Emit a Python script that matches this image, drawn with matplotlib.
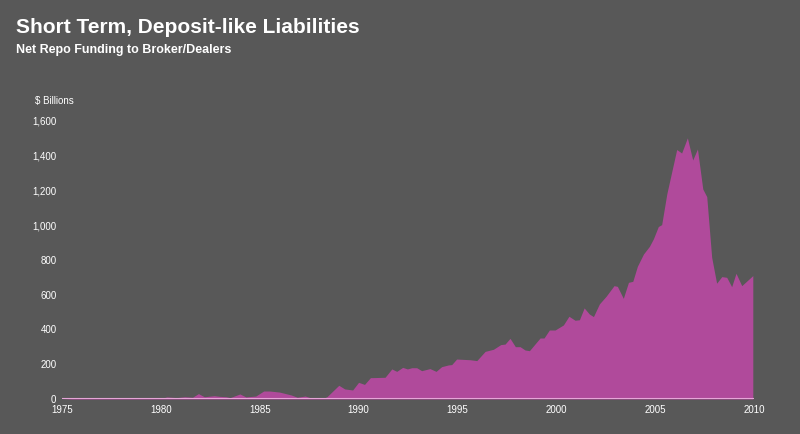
import matplotlib
matplotlib.use("Agg")
import matplotlib.pyplot as plt

years = [1975.0,1975.7,1976.9,1977.4,1977.9,1978.6,1979.1,1980.1,1980.3,1980.8,1981.2,1981.6,1981.9,1982.2,1982.7,1983.0,1983.3,1983.5,1984.0,1984.3,1984.8,1985.2,1985.5,1986.0,1986.6,1986.9,1987.3,1987.6,1988.2,1988.4,1989.0,1989.3,1989.7,1990.0,1990.3,1990.6,
 1990.71,1991.34,1991.68,1991.93,1992.23,1992.47,1992.69,1992.94,1993.19,1993.61,1993.92,1994.2,1994.54,1994.71,1994.96,1995.3,1995.64,1995.98,1996.4,1996.82,1997.19,1997.41,1997.66,1997.93,1998.17,1998.42,1998.64,1999.18,1999.38,1999.65,1999.94,2000.36,2000.64,2000.95,2001.17,2001.41,2001.67,2001.88,2002.18,2002.52,2002.92,2003.09,2003.39,2003.65,2003.87,2004.1,2004.41,2004.71,2004.91,2005.16,2005.33,2005.59,2006.09,2006.34,2006.63,2006.9,2007.14,2007.41,2007.61,2007.86,2008.11,2008.37,2008.62,2008.87,2009.09,2009.38,2009.94]
values = [0,4,4,6,4,8,4,6,12,8,13,10,31,13,19,15,13,8,29,12,17,46,46,40,23,10,17,6,4,13,79,58,52,96,84,123,
 123,125,173,159,182,173,180,180,163,175,159,186,196,198,230,228,226,221,274,286,313,316,349,301,301,282,278,351,351,397,397,426,476,453,456,524,489,474,547,591,652,648,579,671,677,763,834,878,921,992,1003,1180,1435,1415,1502,1375,1438,1208,1164,815,666,704,700,646,723,652,710]
yticks = [0,200,400,600,800,1000,1200,1400,1600]
xticks = [1975,1980,1985,1990,1995,2000,2005,2010]

bg = "#585858"
plt.rcParams['font.family'] = ['Liberation Sans', 'DejaVu Sans']
fig = plt.figure(figsize=(8, 4.34), dpi=100, facecolor=bg)
ax = fig.add_axes([0.0775, 0.0806, 0.865, 0.661], facecolor=bg)
ax.fill_between(years, values, 0, color="#b04a9b", linewidth=0)
ax.axhline(0, color="#e6a6d8", linewidth=1.5)
ax.set_xlim(1975, 2010)
ax.set_ylim(0, 1650)
ax.set_yticks(yticks)
ax.set_yticklabels([f"{v:,}" for v in yticks])
ax.set_xticks(xticks)
for s in ax.spines.values():
    s.set_visible(False)
ax.tick_params(colors="white", labelsize=7, length=0, pad=4)
fig.text(0.02, 0.925, "Short Term, Deposit-like Liabilities", color="white", fontsize=15, fontweight="bold")
fig.text(0.02, 0.878, "Net Repo Funding to Broker/Dealers", color="white", fontsize=9, fontweight="bold")
fig.text(0.044, 0.76, "$ Billions", color="white", fontsize=7)
fig.savefig("out.png", facecolor=bg)
